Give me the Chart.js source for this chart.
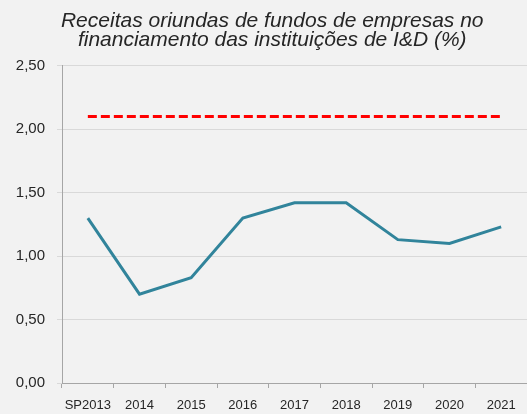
<!DOCTYPE html>
<html>
<head>
<meta charset="utf-8">
<script src="https://cdn.jsdelivr.net/npm/chart.js@4"></script>
<style>
  html, body { margin: 0; padding: 0; background: #F2F2F2; }
  #wrap { width: 527px; height: 414px; position: relative; }
</style>
</head>
<body>
<div id="wrap"><canvas id="fundsChart"></canvas></div>
<script>
// data
const years = ['SP2013', '2014', '2015', '2016', '2017', '2018', '2019', '2020', '2021'];
const companyFunds = [1.30, 0.70, 0.83, 1.30, 1.42, 1.42, 1.13, 1.10, 1.23];
const targetLevel = [2.10, 2.10, 2.10, 2.10, 2.10, 2.10, 2.10, 2.10, 2.10];

const ctx = document.getElementById('fundsChart').getContext('2d');

new Chart(ctx, {
  type: 'line',
  data: {
    labels: years,
    datasets: [
      { // company funds share
        data: companyFunds,
        borderColor: '#31849B',
        borderWidth: 3,
        pointRadius: 0,
        fill: false,
        tension: 0
      },
      { // reference level, red dashed
        data: targetLevel,
        borderColor: '#FF0000',
        borderWidth: 3,
        borderDash: [9, 4],
        pointRadius: 0,
        fill: false
      }
    ]
  },
  options: {
    responsive: true,
    maintainAspectRatio: false,
    animation: false,
    plugins: {
      legend: { display: false },
      tooltip: { enabled: false },
      title: {
        display: true,
        // leading spaces nudge the centred lines a little to the right, as in the original
        text: ['   Receitas oriundas de fundos de empresas no', '   financiamento das instituições de I&D (%)'],
        color: '#262626',
        font: { family: 'Liberation Sans', size: 21, style: 'italic', weight: 'normal', lineHeight: 0.9 },
        padding: { top: 12, bottom: 16 }
      }
    },
    scales: {
      x: {
        offset: true,
        grid: {
          offset: true,
          drawOnChartArea: false,
          drawTicks: true,
          tickLength: 5,
          color: '#A6A6A6'
        },
        border: { color: '#A6A6A6', width: 1 },
        ticks: {
          color: '#262626',
          font: { family: 'Liberation Sans', size: 13 },
          padding: 10,
          maxRotation: 0,
          autoSkip: false
        },
        afterFit: (scale) => { scale.height = 31; }
      },
      y: {
        min: 0,
        max: 2.5,
        grid: {
          color: '#D9D9D9',
          lineWidth: 1,
          tickLength: 5
        },
        border: { color: '#A6A6A6', width: 1 },
        ticks: {
          stepSize: 0.5,
          color: '#262626',
          font: { family: 'Liberation Sans', size: 15 },
          padding: 12,
          callback: (v) => v.toFixed(2).replace('.', ',')
        },
        afterFit: (scale) => { scale.width = 62; }
      }
    }
  }
});
</script>
</body>
</html>
